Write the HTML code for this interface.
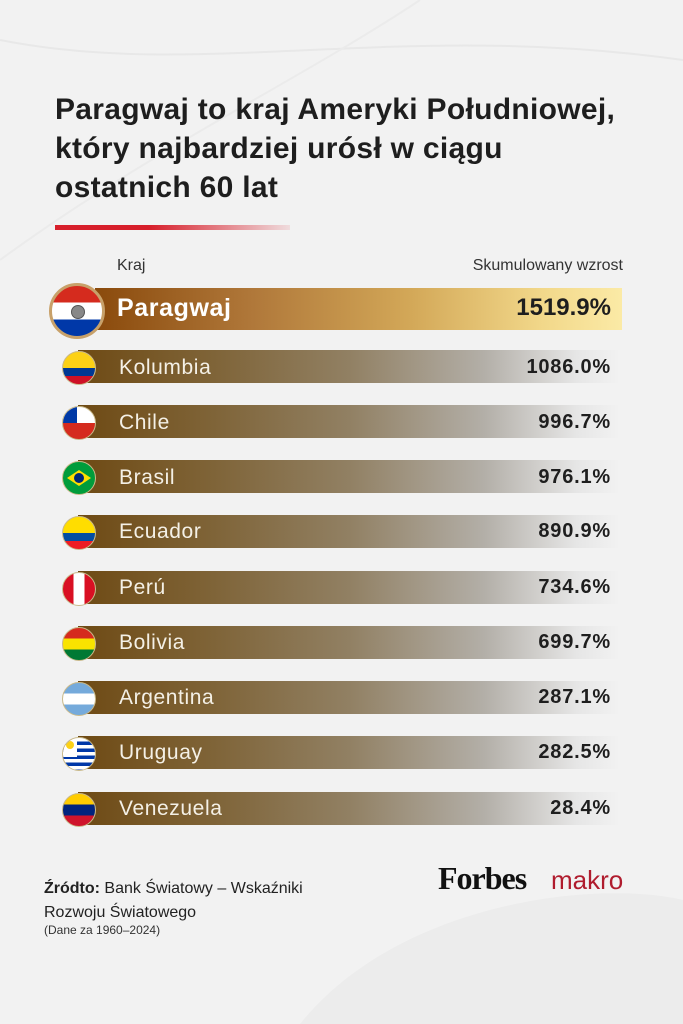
<!DOCTYPE html>
<html><head><meta charset="utf-8"><style>
body{margin:0;width:683px;height:1024px;background:#f2f2f2;font-family:"Liberation Sans",sans-serif;position:relative;overflow:hidden}
.t{position:absolute;left:55px;top:90px;font-size:30px;font-weight:bold;color:#1e1e1e;line-height:39px;letter-spacing:0.3px}
.bar{position:absolute;left:78px;width:542px;height:33px;background:linear-gradient(90deg,#6e4a14 0%,#7f6438 25%,#918063 50%,#b3afa8 75%,#e6e6e6 92%,rgba(242,242,242,0) 100%)}
.name{position:absolute;left:119px;font-size:21px;color:#f4f0e6;letter-spacing:0.6px}
.val{position:absolute;right:72px;font-size:20px;font-weight:bold;color:#1e1e1e;letter-spacing:0.8px}
.fl{position:absolute;left:62px;width:32px;height:32px;border-radius:50%;overflow:hidden;border:1px solid #c9b98a}
</style></head><body>
<svg width="683" height="1024" style="position:absolute;left:0;top:0">
<path d="M0 40 C200 80 400 20 683 60" stroke="#e8e8e8" stroke-width="2" fill="none"/>
<path d="M0 260 C150 150 300 80 420 0" stroke="#ebebeb" stroke-width="2" fill="none"/>
<path d="M300 1024 C400 900 600 880 683 900 L683 1024Z" fill="#ececec"/>
</svg>
<div class="t">Paragwaj to kraj Ameryki Południowej,<br>który najbardziej urósł w ciągu<br>ostatnich 60 lat</div>
<div style="position:absolute;left:55px;top:225px;width:235px;height:5px;background:linear-gradient(90deg,#d71f2b,#d71f2b 40%,rgba(215,31,43,0.1))"></div>
<div style="position:absolute;left:117px;top:257px;font-size:16px;color:#333">Kraj</div>
<div style="position:absolute;right:60px;top:257px;font-size:16px;color:#333">Skumulowany wzrost</div>
<div style="position:absolute;left:95px;top:288px;width:527px;height:42px;background:linear-gradient(90deg,#8a4a0c 0%,#b0783a 30%,#d3a858 60%,#f2d88a 85%,#fbeaa6 100%)"></div>
<div style="position:absolute;left:117px;top:294px;font-size:25px;font-weight:bold;color:#fff;letter-spacing:0.6px">Paragwaj</div>
<div style="position:absolute;right:72px;top:294px;font-size:24px;font-weight:bold;color:#1e1e1e">1519.9%</div>
<div style="position:absolute;left:49px;top:283px;width:50px;height:50px;border-radius:50%;overflow:hidden;border:3px solid #c8a16a;background:linear-gradient(#d52b1e 0 33%,#fff 33% 67%,#0038a8 67%)"><div style="position:absolute;left:19px;top:19px;width:12px;height:12px;border-radius:50%;background:#888;border:1px solid #555"></div></div>

<div class="bar" style="top:350px"></div><div class="fl" style="top:351px;background:linear-gradient(#fcd116 0 50%,#003893 50% 75%,#ce1126 75%)"></div><div class="name" style="top:356px">Kolumbia</div><div class="val" style="top:356px">1086.0%</div>
<div class="bar" style="top:405px"></div><div class="fl" style="top:406px;background:linear-gradient(#fff 0 50%,#d52b1e 50%)"><div style="width:14px;height:16px;background:#0039a6"></div></div><div class="name" style="top:411px">Chile</div><div class="val" style="top:411px">996.7%</div>
<div class="bar" style="top:460px"></div><div class="fl" style="top:461px;background:#009c3b"><div style="position:absolute;left:4px;top:8px;width:24px;height:16px;background:#ffdf00;clip-path:polygon(50% 0,100% 50%,50% 100%,0 50%)"></div><div style="position:absolute;left:11px;top:11px;width:10px;height:10px;border-radius:50%;background:#002776"></div></div><div class="name" style="top:466px">Brasil</div><div class="val" style="top:466px">976.1%</div>
<div class="bar" style="top:515px"></div><div class="fl" style="top:516px;background:linear-gradient(#ffdd00 0 50%,#034ea2 50% 75%,#ed1c24 75%)"></div><div class="name" style="top:520px">Ecuador</div><div class="val" style="top:520px">890.9%</div>
<div class="bar" style="top:571px"></div><div class="fl" style="top:572px;background:linear-gradient(90deg,#d91023 0 33%,#fff 33% 67%,#d91023 67%)"></div><div class="name" style="top:576px">Perú</div><div class="val" style="top:576px">734.6%</div>
<div class="bar" style="top:626px"></div><div class="fl" style="top:627px;background:linear-gradient(#d52b1e 0 33%,#f9e300 33% 67%,#007934 67%)"></div><div class="name" style="top:631px">Bolivia</div><div class="val" style="top:631px">699.7%</div>
<div class="bar" style="top:681px"></div><div class="fl" style="top:682px;background:linear-gradient(#75aadb 0 33%,#fff 33% 67%,#75aadb 67%)"></div><div class="name" style="top:686px">Argentina</div><div class="val" style="top:686px">287.1%</div>
<div class="bar" style="top:736px"></div><div class="fl" style="top:737px;background:repeating-linear-gradient(#fff 0 3.5px,#0038a8 3.5px 7px)"><div style="width:14px;height:16px;background:#fff"><div style="margin:3px;width:8px;height:8px;border-radius:50%;background:#fcd116"></div></div></div><div class="name" style="top:741px">Uruguay</div><div class="val" style="top:741px">282.5%</div>
<div class="bar" style="top:792px"></div><div class="fl" style="top:793px;background:linear-gradient(#ffcc00 0 33%,#00247d 33% 67%,#cf142b 67%)"></div><div class="name" style="top:797px">Venezuela</div><div class="val" style="top:797px">28.4%</div>

<div style="position:absolute;left:44px;top:877px;font-size:16px;color:#222;line-height:24px"><b>Źródto:</b> Bank Światowy – Wskaźniki<br>Rozwoju Światowego</div>
<div style="position:absolute;left:44px;top:923px;font-size:12px;color:#333">(Dane za 1960–2024)</div>
<div style="position:absolute;left:438px;top:860px;font-family:'Liberation Serif',serif;font-weight:bold;font-size:32px;color:#111;letter-spacing:-1px">Forbes</div>
<div style="position:absolute;left:551px;top:865px;font-size:26px;color:#b01c2e">makro</div>
</body></html>
